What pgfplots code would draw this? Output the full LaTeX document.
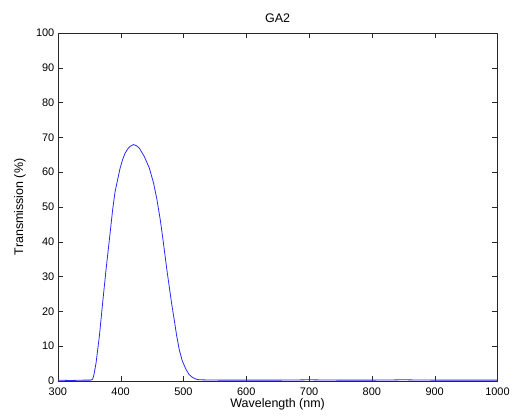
\documentclass[border=0pt]{standalone}
\usepackage{fontspec}
\setmainfont{Liberation Sans}
\usepackage{pgfplots}
\pgfplotsset{compat=1.18}
\definecolor{axgray}{RGB}{40,40,40}
\definecolor{curveblue}{RGB}{40,40,255}

\begin{document}
\begin{tikzpicture}[font=\fontsize{12.5}{14}\selectfont]
\begin{axis}[name=ax,
  scale only axis,
  width=441pt, height=349pt,
  xmin=300, xmax=1000, ymin=0, ymax=100,
  xtick={300,400,...,1000}, ytick={0,10,...,100},
  tick align=inside, major tick length=5pt,
  axis line style={axgray}, tick style={axgray},
  title={GA2},
  title style={at={(axis description cs:0.5,1)}, anchor=center, yshift=9pt},
  xlabel={Wavelength (nm)}, ylabel={Transmission (\%)},
  xlabel style={at={(axis description cs:0.5,0)}, anchor=center, yshift=-23.5pt},
  ylabel style={at={(axis description cs:0,0.5)}, anchor=center, yshift=38pt},
  /pgf/number format/assume math mode=true,
  /pgf/number format/set thousands separator={},
  tick label style={font=\fontsize{11}{13}\selectfont},
  xticklabel style={anchor=center, yshift=-10.8pt},
]
\addplot[curveblue, line width=0.8pt] coordinates {
  (300,0.2) (320,0.1) (340,0.2) (352,0.2) (355.6,0.5) (358,2.2) (361,5.3)
  (366.2,12.9) (371.4,22.5) (376.8,32.0) (382.1,40.6) (387.3,49.2)
  (391,54.2) (395.2,57.8) (399,61.0) (403.2,63.6) (407,65.4) (411.1,66.6)
  (415,67.4) (420.4,67.9) (425,67.6) (429.7,66.9) (437.6,64.5) (445.6,61.2)
  (452.4,56.9) (457.8,52.1) (463,46.4) (466.7,41.6) (470.5,36.3)
  (474,31.4) (477.3,27.2) (481.2,22.2) (485.2,17.7) (489.2,13.0) (493.2,9.1)
  (498,5.8) (503.8,3.4) (509,1.8) (514.3,1.0) (520,0.5) (525,0.3)
  (560,0.2) (600,0.2) (650,0.2) (700,0.3) (750,0.2) (800,0.2) (850,0.3)
  (900,0.2) (950,0.2) (1000,0.2)
};
\end{axis}
\path (ax.south west) ++(-58pt,-36.3pt) (ax.north east) ++(14pt,33pt);
\end{tikzpicture}
\end{document}
